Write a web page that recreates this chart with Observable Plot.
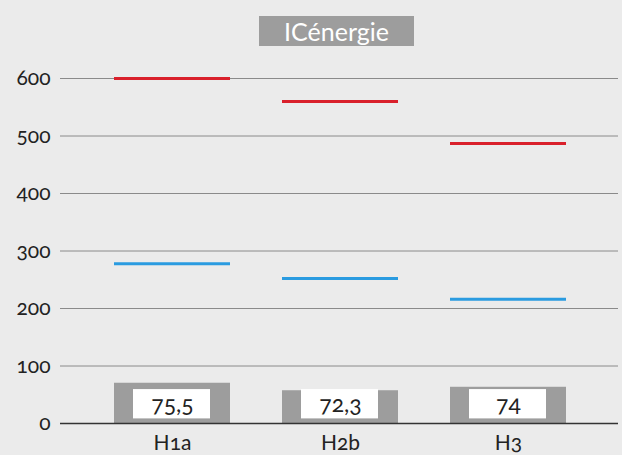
<!DOCTYPE html>
<html><head><meta charset="utf-8">
<script src="https://cdn.jsdelivr.net/npm/d3@7"></script>
<script src="https://cdn.jsdelivr.net/npm/@observablehq/plot@0.6"></script>
<style>
body{margin:0;background:#ebebeb;}
#wrap{position:relative;width:622px;height:455px;overflow:hidden;}
#title{position:absolute;left:259px;top:16px;width:155px;height:30px;background:#9d9d9d;color:#fff;font:25px Lato,"Open Sans",sans-serif;text-align:center;line-height:30px;z-index:2;}
svg text{font-variant-numeric:oldstyle-nums !important;font-variant:oldstyle-nums;}
</style></head>
<body><div id="wrap"><div id="title">ICénergie</div></div>
<script>
const categories = ["H1a","H2b","H3"];
const barValues = [70, 57, 63];
const barLabels = ["75,5","72,3","74"];
const redValues = [600, 560, 487];
const blueValues = [278, 252, 216];
const yTicks = [0,100,200,300,400,500,600];
const labelBox = [8, 59];

const rows = categories.map((c,i)=>({c, bar:barValues[i], label:barLabels[i], red:redValues[i], blue:blueValues[i]}));

const chart = Plot.plot({
  width:622, height:455,
  marginTop:78, marginBottom:32, marginLeft:60, marginRight:4,
  style:{background:"transparent", fontFamily:"Lato, 'Open Sans', sans-serif", fontSize:"21px", color:"#222"},
  x:{type:"band", domain:categories, insetLeft:27, insetRight:26, paddingInner:0.31, paddingOuter:0.155, label:null},
  y:{domain:[0,600], label:null},
  marks:[
    Plot.ruleY(yTicks.filter(d=>d>0), {stroke:"#8a8a8a", strokeWidth:1}),
    Plot.barY(rows, {x:"c", y:"bar", fill:"#9d9d9d"}),
    Plot.barY(rows, {x:"c", y1:()=>labelBox[0], y2:()=>labelBox[1], fill:"#fff", insetLeft:19, insetRight:20}),
    Plot.text(rows, {x:"c", y:()=>(labelBox[0]+labelBox[1])/2, text:"label", fontSize:23, fill:"#222", fontVariant:"oldstyle-nums"}),
    Plot.tickY(rows, {x:"c", y:"red", stroke:"#d9202b", strokeWidth:3}),
    Plot.tickY(rows, {x:"c", y:"blue", stroke:"#2a9be0", strokeWidth:3}),
    Plot.ruleY([0], {stroke:"#333", strokeWidth:1.5}),
    Plot.axisY({ticks:yTicks, tickSize:0, tickPadding:10, fontSize:21, fill:"#222", fontVariant:"oldstyle-nums"}),
    Plot.axisX({tickSize:0, tickPadding:12, fontSize:21, fill:"#222", fontVariant:"oldstyle-nums"})
  ]
});
chart.style.position="absolute"; chart.style.left="0"; chart.style.top="0";
document.getElementById("wrap").appendChild(chart);
</script></body></html>
